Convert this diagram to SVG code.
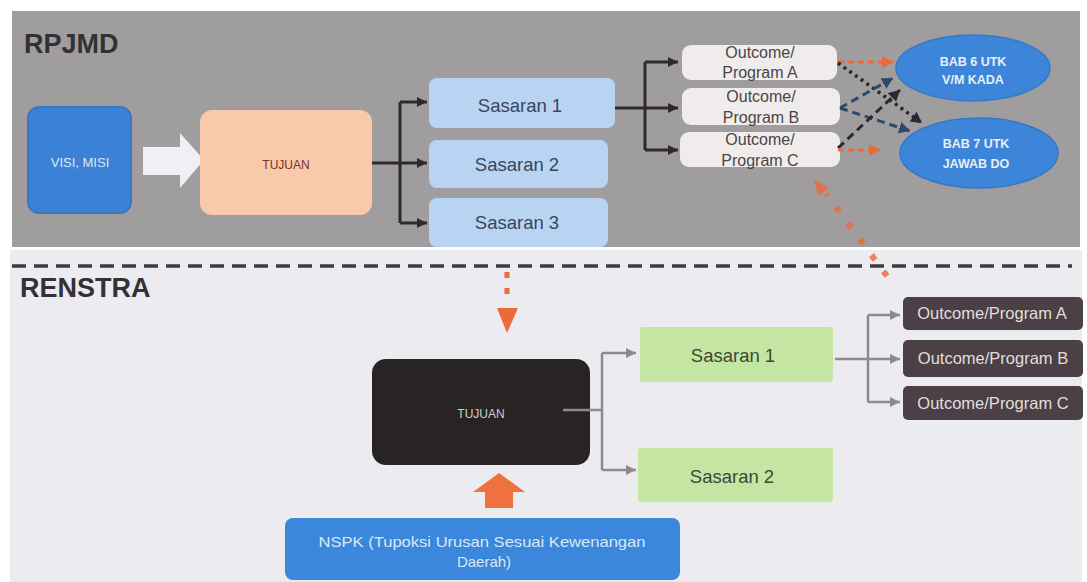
<svg xmlns="http://www.w3.org/2000/svg" width="1087" height="582" viewBox="0 0 1087 582" font-family="Liberation Sans, Arial, sans-serif">
<defs>
<style>
text{font-family:"Liberation Sans",Arial,sans-serif}
.title{font-size:27px;font-weight:bold;fill:#333135}
.sas{font-size:18.5px;fill:#38465f;text-anchor:middle}
.sasg{font-size:18.5px;fill:#3b4838;text-anchor:middle}
.oc{font-size:16px;fill:#484646;text-anchor:middle}
.ocd{font-size:16.5px;fill:#e2dede;text-anchor:middle}
.bab{font-size:12.5px;font-weight:bold;fill:#e8eef8;text-anchor:middle}
.blk{fill:none;stroke:#2e2a28;stroke-width:3}
.gry{fill:none;stroke:#8c8a90;stroke-width:2.5}
</style>
<marker id="aBlk" markerUnits="userSpaceOnUse" markerWidth="12" markerHeight="12" refX="10" refY="5" orient="auto"><path d="M0,0 L10,5 L0,10 Z" fill="#2e2a28"/></marker>
<marker id="aGry" markerUnits="userSpaceOnUse" markerWidth="12" markerHeight="12" refX="10" refY="5" orient="auto"><path d="M0,0 L10,5 L0,10 Z" fill="#8c8a90"/></marker>
<marker id="aOr" markerUnits="userSpaceOnUse" markerWidth="14" markerHeight="14" refX="11" refY="6" orient="auto"><path d="M0,0 L11,6 L0,12 Z" fill="#ea6a3c"/></marker>
<marker id="aDk" markerUnits="userSpaceOnUse" markerWidth="14" markerHeight="14" refX="11" refY="6" orient="auto"><path d="M0,0 L11,6 L0,12 Z" fill="#2a2830"/></marker>
<marker id="aBl" markerUnits="userSpaceOnUse" markerWidth="14" markerHeight="14" refX="11" refY="6" orient="auto"><path d="M0,0 L11,6 L0,12 Z" fill="#2d4a6b"/></marker>
</defs>
<rect x="0" y="0" width="1087" height="582" fill="#ffffff"/>
<rect x="10" y="250" width="1072" height="332" fill="#ecebef"/>
<rect x="12" y="11" width="1068" height="236" fill="#a09d9f"/>
<text class="title" x="24" y="53">RPJMD</text>
<text class="title" x="20" y="297">RENSTRA</text>
<line x1="12" y1="266" x2="1072" y2="266" stroke="#3d3b3d" stroke-width="3.5" stroke-dasharray="14 8"/>

<g id="visi-misi">
<rect x="28" y="107" width="103" height="106" rx="11" fill="#3b82d6" stroke="#3a78c4" stroke-width="2"/>
<text x="80" y="167" font-size="13" fill="#dfe6f2" text-anchor="middle">VISI, MISI</text>
</g>
<g id="white-arrow">
<polygon points="143,147 180,147 180,133 204,160 180,188 180,175 143,175" fill="#eef0f5"/>
</g>
<g id="tujuan-top">
<rect x="200" y="110" width="172" height="105" rx="12" fill="#f8c9aa"/>
<text x="286" y="169" font-size="12" fill="#7a3325" text-anchor="middle">TUJUAN</text>
</g>
<g id="sasaran-top-1"><rect x="429" y="78" width="186" height="50" rx="8" fill="#b8d4f2"/><text class="sas" x="520" y="112">Sasaran 1</text></g>
<g id="sasaran-top-2"><rect x="429" y="140" width="179" height="48" rx="8" fill="#b8d4f2"/><text class="sas" x="517" y="171">Sasaran 2</text></g>
<g id="sasaran-top-3"><rect x="429" y="198" width="179" height="49" rx="8" fill="#b8d4f2"/><text class="sas" x="517" y="229">Sasaran 3</text></g>
<g id="outcome-top-a"><rect x="682" y="45" width="155" height="35" rx="9" fill="#f0ecec"/><text class="oc" x="760" y="58">Outcome/</text><text class="oc" x="760" y="78">Program A</text></g>
<g id="outcome-top-b"><rect x="682" y="88" width="158" height="37" rx="9" fill="#f0ecec"/><text class="oc" x="761" y="102">Outcome/</text><text class="oc" x="761" y="123">Program B</text></g>
<g id="outcome-top-c"><rect x="680" y="132" width="160" height="35" rx="9" fill="#f0ecec"/><text class="oc" x="760" y="145">Outcome/</text><text class="oc" x="760" y="166">Program C</text></g>
<g id="bab6"><ellipse cx="973" cy="68" rx="77" ry="33" fill="#3d85d8" stroke="#3678c8" stroke-width="1.5"/><text class="bab" x="973" y="66">BAB 6 UTK</text><text class="bab" x="973" y="84">V/M KADA</text></g>
<g id="bab7"><ellipse cx="979" cy="153" rx="79" ry="35" fill="#3d85d8" stroke="#3678c8" stroke-width="1.5"/><text class="bab" x="976" y="148">BAB 7 UTK</text><text class="bab" x="976" y="168">JAWAB DO</text></g>

<g id="tujuan-bottom">
<rect x="372" y="359" width="218" height="106" rx="14" fill="#282424"/>
<text x="481" y="418" font-size="12" fill="#d0cece" text-anchor="middle">TUJUAN</text>
</g>
<g id="sasaran-bottom-1"><rect x="640" y="327" width="193" height="55" rx="3" fill="#c4e6a2"/><text class="sasg" x="733" y="362">Sasaran 1</text></g>
<g id="sasaran-bottom-2"><rect x="638" y="448" width="195" height="54" rx="3" fill="#c4e6a2"/><text class="sasg" x="732" y="483">Sasaran 2</text></g>
<g id="outcome-bottom-a"><rect x="903" y="297" width="180" height="33" rx="5" fill="#4b4045"/><text class="ocd" x="992" y="319">Outcome/Program A</text></g>
<g id="outcome-bottom-b"><rect x="903" y="340" width="180" height="37" rx="5" fill="#4b4045"/><text class="ocd" x="993" y="364">Outcome/Program B</text></g>
<g id="outcome-bottom-c"><rect x="903" y="386" width="180" height="34" rx="5" fill="#4b4045"/><text class="ocd" x="993" y="409">Outcome/Program C</text></g>
<g id="nspk">
<rect x="285" y="518" width="395" height="62" rx="8" fill="#3a87dc"/>
<text x="482" y="547" font-size="15" fill="#dce8f8" text-anchor="middle" textLength="327" lengthAdjust="spacingAndGlyphs">NSPK (Tupoksi Urusan Sesuai Kewenangan</text>
<text x="484" y="567" font-size="15" fill="#dce8f8" text-anchor="middle">Daerah)</text>
</g>

<g id="connectors">
<path class="blk" d="M372,163 H400 M400,102 V223"/>
<line class="blk" x1="400" y1="102" x2="427" y2="102" marker-end="url(#aBlk)"/>
<line class="blk" x1="400" y1="163" x2="427" y2="163" marker-end="url(#aBlk)"/>
<line class="blk" x1="400" y1="223" x2="427" y2="223" marker-end="url(#aBlk)"/>
<path class="blk" d="M615,108 H645 M645,62 V150"/>
<line class="blk" x1="645" y1="62" x2="678" y2="62" marker-end="url(#aBlk)"/>
<line class="blk" x1="645" y1="108" x2="678" y2="108" marker-end="url(#aBlk)"/>
<line class="blk" x1="645" y1="150" x2="678" y2="150" marker-end="url(#aBlk)"/>

<line x1="838" y1="62" x2="893" y2="62" stroke="#ea6a3c" stroke-width="3" stroke-dasharray="6 4" marker-end="url(#aOr)"/>
<line x1="838" y1="63" x2="922" y2="123" stroke="#2a2830" stroke-width="3.5" stroke-dasharray="3 4" marker-end="url(#aDk)"/>
<line x1="840" y1="108" x2="893" y2="78" stroke="#2d4a6b" stroke-width="3" stroke-dasharray="8 5" marker-end="url(#aBl)"/>
<line x1="840" y1="108" x2="910" y2="131" stroke="#2d4a6b" stroke-width="3" stroke-dasharray="8 5" marker-end="url(#aBl)"/>
<line x1="838" y1="148" x2="900" y2="90" stroke="#2a2830" stroke-width="3" stroke-dasharray="8 5" marker-end="url(#aDk)"/>
<line x1="838" y1="150" x2="880" y2="150" stroke="#ea6a3c" stroke-width="3" stroke-dasharray="6 4" marker-end="url(#aOr)"/>

<line x1="887" y1="276" x2="826" y2="194" stroke="#ea6a3c" stroke-width="6" stroke-dasharray="6 14" opacity="0.8"/>
<polygon points="814,179 829,188 818,196" fill="#ea6a3c" opacity="0.8"/>

<line x1="507" y1="272" x2="507" y2="304" stroke="#ea6a3c" stroke-width="5" stroke-dasharray="6 10"/>
<polygon points="497,308 518,308 507,333" fill="#ea6a3c"/>
<polygon points="485,508 485,492 473,492 499,473 525,492 513,492 513,508" fill="#f0703e"/>

<path class="gry" d="M563,410 H602 M602,353 V470"/>
<line class="gry" x1="602" y1="353" x2="636" y2="353" marker-end="url(#aGry)"/>
<line class="gry" x1="602" y1="470" x2="636" y2="470" marker-end="url(#aGry)"/>
<path class="gry" d="M835,359 H868 M868,315 V402"/>
<line class="gry" x1="868" y1="315" x2="900" y2="315" marker-end="url(#aGry)"/>
<line class="gry" x1="868" y1="359" x2="900" y2="359" marker-end="url(#aGry)"/>
<line class="gry" x1="868" y1="402" x2="900" y2="402" marker-end="url(#aGry)"/>
</g>
</svg>
